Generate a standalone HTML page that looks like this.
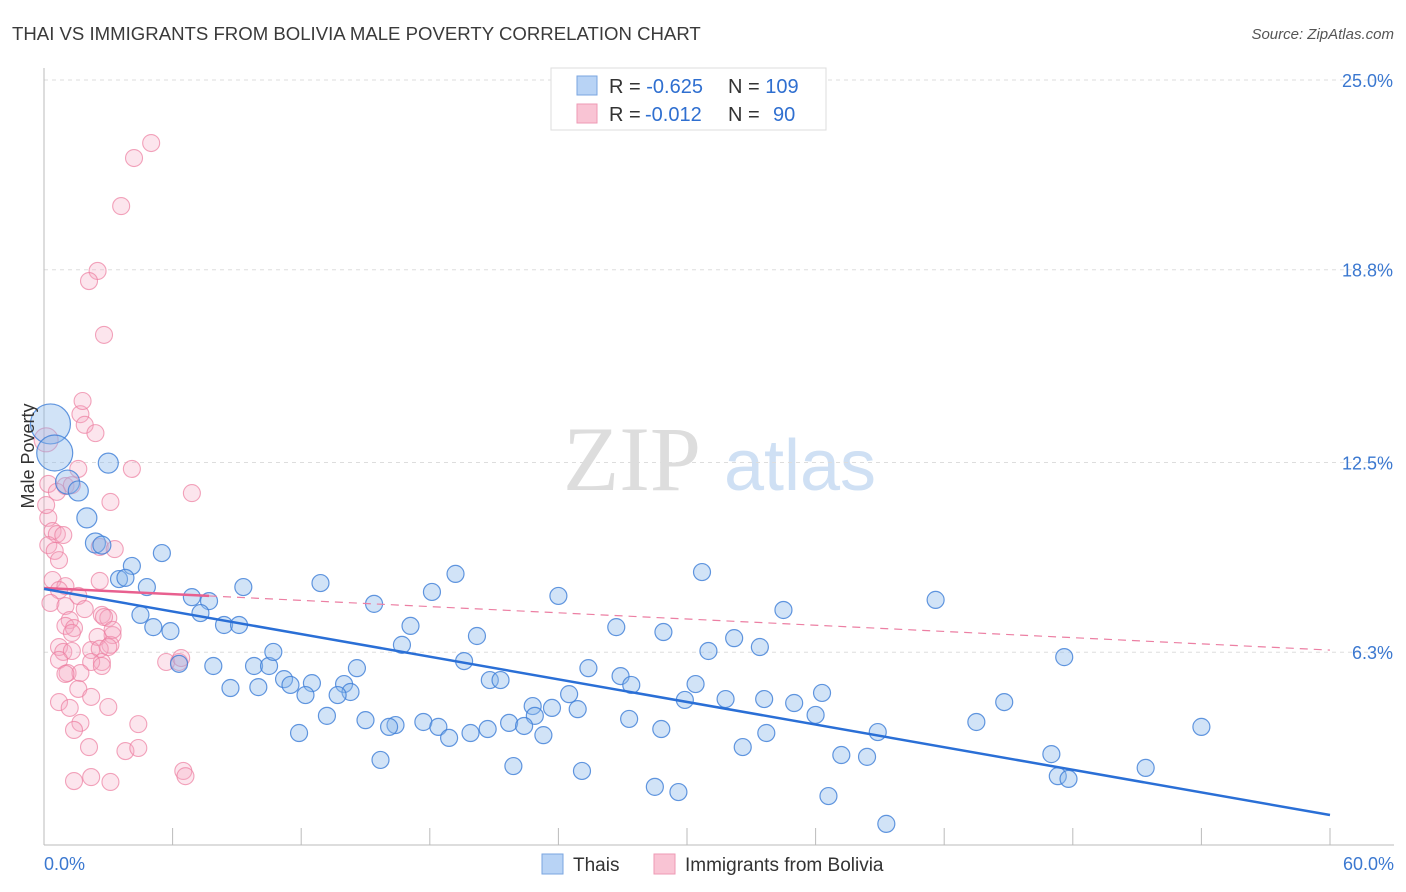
<!DOCTYPE html>
<html><head><meta charset="utf-8"><style>
body{margin:0;background:#fff;font-family:"Liberation Sans",sans-serif;}
svg{display:block}
</style></head><body>
<svg id="chart" width="1406" height="892" xmlns="http://www.w3.org/2000/svg">
<text x="12" y="40" font-size="18.6" fill="#3a3a3a">THAI VS IMMIGRANTS FROM BOLIVIA MALE POVERTY CORRELATION CHART</text>
<text x="1394" y="39" font-size="15" fill="#555" font-style="italic" text-anchor="end">Source: ZipAtlas.com</text>
<g>
<text x="632" y="490" font-size="92" fill="#ddd" font-family="Liberation Serif,serif" text-anchor="middle">ZIP</text>
<text x="800" y="490" font-size="72" fill="#cfe0f4" text-anchor="middle">atlas</text>
</g>
<g id="grid"></g>
<g id="axes"></g>
<g id="pts"></g>
<g id="trend"></g>
<text transform="translate(34,456) rotate(-90)" font-size="18" fill="#333" text-anchor="middle">Male Poverty</text>
<g>
<rect x="551" y="68" width="275" height="62" fill="#fff" stroke="#ddd"/>
<rect x="577" y="76" width="20" height="19" fill="#b8d3f5" stroke="#7aa6e0"/>
<rect x="577" y="104" width="20" height="19" fill="#f9c4d4" stroke="#ee9ab4"/>
<text x="609" y="93" font-size="20" fill="#333">R = <tspan fill="#2f6fd0">-0.625</tspan><tspan x="728">N = </tspan><tspan fill="#2f6fd0">109</tspan></text>
<text x="609" y="121" font-size="20" fill="#333">R = <tspan fill="#2f6fd0" x="645">-0.012</tspan><tspan x="728">N = </tspan><tspan fill="#2f6fd0" x="773">90</tspan></text>
</g>
<g>
<rect x="542" y="854" width="21" height="20" fill="#b8d3f5" stroke="#7aa6e0"/>
<text x="573" y="871" font-size="19" fill="#333">Thais</text>
<rect x="654" y="854" width="21" height="20" fill="#f9c4d4" stroke="#ee9ab4"/>
<text x="685" y="871" font-size="19" fill="#333">Immigrants from Bolivia</text>
</g>
</svg>
<script>
const yTicks=[6.3,12.5,18.8,25.0];
const yTickLabels=["6.3%","12.5%","18.8%","25.0%"];
const xTickCount=10;
const xLabels=["0.0%","60.0%"];
const blueX=[0.3,0.5,1.1,1.6,2.0,3.0,2.4,2.7,4.1,5.5,3.5,3.8,4.8,4.5,5.1,5.9,6.9,7.7,7.3,8.4,9.1,9.3,12.9,15.4,18.1,19.2,24.0,30.7,34.5,41.6,17.1,16.7,20.2,26.7,28.9,32.2,33.4,31.0,47.6,6.3,7.9,9.8,10.5,10.7,14.6,19.6,8.7,10.0,11.2,11.5,12.5,14.0,14.3,12.2,13.7,20.8,21.3,25.4,26.9,27.4,30.4,24.5,29.9,31.8,33.6,35.0,36.3,44.8,22.8,23.7,24.9,22.9,13.2,15.0,16.4,16.1,17.7,18.4,18.9,19.9,20.7,21.7,22.4,23.3,27.3,28.8,33.7,36.0,38.9,43.5,54.0,11.9,32.6,37.2,38.4,47.0,15.7,21.9,25.1,47.3,47.8,51.4,28.5,29.6,36.6,39.3];
const blueY=[13.76,12.81,11.86,11.57,10.69,12.48,9.87,9.80,9.12,9.54,8.69,8.73,8.43,7.52,7.12,6.99,8.10,7.97,7.58,7.19,7.19,8.43,8.56,7.88,8.27,8.86,8.14,8.92,7.68,8.01,7.16,6.54,6.83,7.12,6.96,6.76,6.47,6.34,6.14,5.92,5.85,5.85,5.85,6.31,5.78,6.01,5.13,5.16,5.42,5.23,5.29,5.26,5.00,4.90,4.90,5.39,5.39,5.78,5.52,5.23,5.26,4.93,4.74,4.77,4.77,4.64,4.97,4.67,4.54,4.48,4.44,4.22,4.22,4.08,3.92,3.86,4.02,3.86,3.50,3.66,3.79,3.99,3.89,3.59,4.12,3.79,3.66,4.25,3.69,4.02,3.86,3.66,3.20,2.94,2.88,2.97,2.78,2.58,2.42,2.25,2.16,2.52,1.90,1.73,1.60,0.69];
const blueSize=[20,18,12,10,10,10,10,9];
const pinkX=[0.1,1.7,1.9,2.4,1.6,0.2,1.0,1.3,4.1,3.1,6.9,0.2,0.4,0.6,0.9,0.2,0.5,0.7,2.6,3.3,0.4,1.0,2.6,0.7,1.6,0.3,1.0,1.9,2.7,1.2,1.0,1.4,3.2,2.5,0.7,0.9,1.3,2.2,3.1,2.6,3.0,0.7,2.7,2.2,5.7,6.3,6.4,1.1,1.7,1.0,2.7,1.6,2.2,0.7,1.2,3.0,1.7,4.4,1.4,2.1,3.8,4.4,6.5,6.6,1.4,2.2,3.1,5.0,4.2,3.6,2.5,2.1,2.8,1.8,0.1,0.6,3.0,2.8,1.3,3.2];
const pinkY=[13.24,14.08,13.73,13.46,12.29,11.80,11.73,11.76,12.29,11.21,11.50,10.69,10.26,10.16,10.13,9.80,9.61,9.31,9.74,9.67,8.66,8.46,8.63,8.33,8.14,7.91,7.81,7.71,7.52,7.35,7.16,7.09,6.86,6.80,6.47,6.31,6.34,6.37,6.54,6.41,6.47,6.05,5.98,5.98,5.98,5.98,6.11,5.62,5.62,5.59,5.85,5.10,4.84,4.67,4.48,4.51,3.99,3.95,3.76,3.20,3.07,3.17,2.42,2.25,2.09,2.22,2.06,22.94,22.45,20.88,18.76,18.43,16.67,14.51,11.11,11.54,7.42,7.45,6.93,7.03];
const pinkSize=[12];
const blueTrend=[8.37,0.98];
const pinkTrend=[8.40,6.37];
const pinkSolidEnd=7.7;

const X0=44,X1=1330,Y0=845,PXPERPCT=30.6;
const sx=v=>X0+(v/60)*(X1-X0);
const sy=v=>Y0-v*PXPERPCT;
const NS="http://www.w3.org/2000/svg";
function mk(tag,attrs,parent){const e=document.createElementNS(NS,tag);for(const k in attrs)e.setAttribute(k,attrs[k]);parent.appendChild(e);return e;}
const grid=document.getElementById('grid'),axes=document.getElementById('axes'),pts=document.getElementById('pts'),trend=document.getElementById('trend');
yTicks.forEach((t,i)=>{
  const l=mk('line',{x1:X0,x2:1394,y1:sy(t),y2:sy(t),stroke:'#ddd','stroke-dasharray':'4,4'},grid);
  
  
  const tx=mk('text',{x:1393,y:sy(t)+7,'font-size':18,fill:'#3b78d0','text-anchor':'end'},axes);
  tx.textContent=yTickLabels[i];
  
  
});
let a=mk('line',{x1:X0,x2:X0,y1:68,y2:Y0,stroke:'#bbb'},axes);


a=mk('line',{x1:X0,x2:1394,y1:Y0,y2:Y0,stroke:'#bbb'},axes);


for(let i=0;i<=xTickCount;i++){
  const t=mk('line',{x1:sx(i*60/xTickCount),x2:sx(i*60/xTickCount),y1:828,y2:Y0,stroke:'#bbb'},axes);
  
  
}
[[0,'start',44],[60,'end',1394]].forEach((d,i)=>{
  const t=mk('text',{x:d[2],y:870,'font-size':18,fill:'#3b78d0','text-anchor':d[1]},axes);
  t.textContent=xLabels[i];
  
  
});
pinkX.forEach((x,i)=>{
  const c=mk('circle',{cx:sx(x),cy:sy(pinkY[i]),r:pinkSize[i]||8.5,fill:'rgba(246,170,195,0.3)',stroke:'rgba(236,125,160,0.7)','stroke-width':1.1},pts);
  
  
});
blueX.forEach((x,i)=>{
  const c=mk('circle',{cx:sx(x),cy:sy(blueY[i]),r:blueSize[i]||8.5,fill:'rgba(140,185,235,0.4)',stroke:'rgba(60,125,215,0.8)','stroke-width':1.2},pts);
  
  
});
const pAt=x=>pinkTrend[0]+(pinkTrend[1]-pinkTrend[0])*x/60;
let tl=mk('line',{x1:sx(pinkSolidEnd),y1:sy(pAt(pinkSolidEnd)),x2:sx(60),y2:sy(pinkTrend[1]),stroke:'#ec7fa3','stroke-width':1.2,'stroke-dasharray':'8,6'},trend);


tl=mk('line',{x1:sx(0),y1:sy(pinkTrend[0]),x2:sx(pinkSolidEnd),y2:sy(pAt(pinkSolidEnd)),stroke:'#e8608f','stroke-width':2.5},trend);


tl=mk('line',{x1:sx(0),y1:sy(blueTrend[0]),x2:sx(60),y2:sy(blueTrend[1]),stroke:'#2a6fd6','stroke-width':2.5},trend);


</script>
</body></html>
